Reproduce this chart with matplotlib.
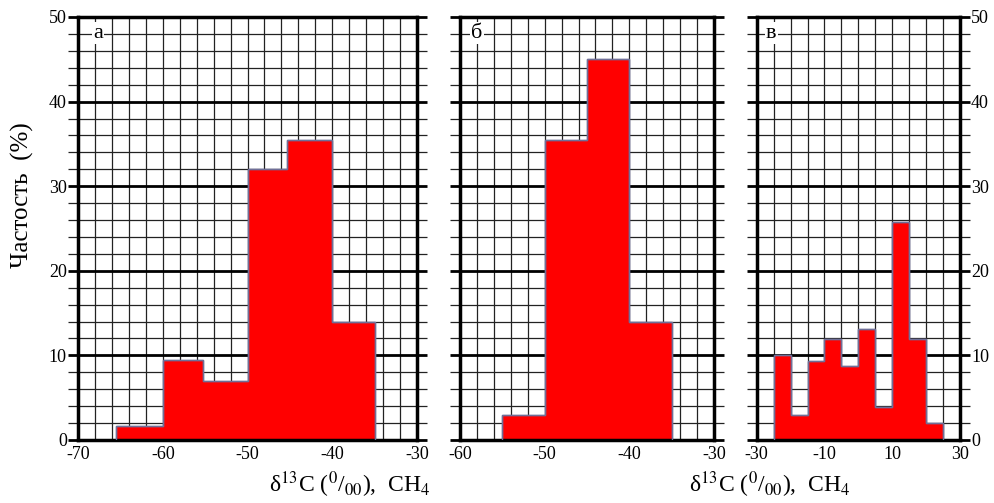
import matplotlib
matplotlib.use('Agg')
import matplotlib.pyplot as plt
import numpy as np
from matplotlib.ticker import MultipleLocator, FixedLocator

plt.rcParams['font.family'] = ['Liberation Serif', 'DejaVu Serif']
plt.rcParams['mathtext.fontset'] = 'stix'
plt.rcParams['axes.unicode_minus'] = False

# panel a
edges_a = [-65.5, -60, -55.3, -50, -45.3, -40, -35]
freq_a = [1.7, 9.5, 7.0, 32.0, 35.5, 14.0]
# panel b
edges_b = [-55, -50, -45, -40, -35]
freq_b = [3.0, 35.5, 45.0, 14.0]
# panel c
edges_c = [-25, -20, -15, -10, -5, 0, 5, 10, 15, 20, 25]
freq_c = [10.0, 3.0, 9.3, 11.9, 8.8, 13.1, 3.9, 25.8, 11.9, 2.0]

panels = [
    ('а', edges_a, freq_a, (-70, -30), [-70, -60, -50, -40, -30], 2, 'left'),
    ('б', edges_b, freq_b, (-60, -30), [-60, -50, -40, -30], 2, 'none'),
    ('в', edges_c, freq_c, (-30, 30), [-30, -10, 10, 30], 5, 'right'),
]
positions = [
    [78 / 995, 1 - 440 / 503, 339 / 995, 423 / 503],
    [460 / 995, 1 - 440 / 503, 254 / 995, 423 / 503],
    [756.7 / 995, 1 - 440 / 503, 203.3 / 995, 423 / 503],
]

fig = plt.figure(figsize=(9.95, 5.03), dpi=100)

for (letter, edges, freq, xlim, xmaj, xmin, ylab), pos in zip(panels, positions):
    ax = fig.add_axes(pos)
    ax.stairs(freq, edges, fill=True, facecolor='#ff0000', edgecolor='#6f6f98',
              linewidth=1.0, zorder=2)
    ax.stairs(freq, edges, fill=False, color='#6f6f98', linewidth=1.0,
              baseline=0, zorder=3)
    ax.set_xlim(*xlim)
    ax.set_ylim(0, 50)
    ax.set_axisbelow(True)
    ax.xaxis.set_major_locator(FixedLocator(xmaj))
    ax.xaxis.set_minor_locator(MultipleLocator(xmin))
    ax.yaxis.set_major_locator(MultipleLocator(10))
    ax.yaxis.set_minor_locator(MultipleLocator(2))
    ax.xaxis.grid(True, which='both', color='#222222', linewidth=0.9)
    ax.yaxis.grid(True, which='major', color='black', linewidth=2.0)
    ax.yaxis.grid(True, which='minor', color='#222222', linewidth=0.9)
    ax.tick_params(axis='x', which='both', length=0, labelsize=13, pad=4)
    ax.tick_params(axis='y', which='major', direction='out', length=7, width=2.0,
                   left=True, right=True, labelsize=13, pad=1)
    ax.tick_params(axis='y', which='minor', direction='out', length=7, width=0.9,
                   color='#222222', left=True, right=True)
    if ylab == 'left':
        ax.tick_params(axis='y', labelleft=True, labelright=False)
    elif ylab == 'right':
        ax.tick_params(axis='y', labelleft=False, labelright=True)
    else:
        ax.tick_params(axis='y', labelleft=False, labelright=False)
    for sp in ax.spines.values():
        sp.set_linewidth(2.5)
    ax.text(0.045, 0.962, letter, transform=ax.transAxes, fontsize=16,
            ha='left', va='center', zorder=5,
            bbox=dict(facecolor='white', edgecolor='none', pad=1))

xlab = r'δ$^{13}$C ($^{0}$/$_{00}$),  CH$_4$'
fig.text(350 / 995, 1 - 485 / 503, xlab, fontsize=17, ha='center', va='center')
fig.text(770 / 995, 1 - 485 / 503, xlab, fontsize=17, ha='center', va='center')
fig.text(22 / 995, 1 - 195 / 503, 'Частость  (%)', fontsize=18, rotation=90,
         ha='center', va='center')

fig.savefig('out.png', dpi=100)
